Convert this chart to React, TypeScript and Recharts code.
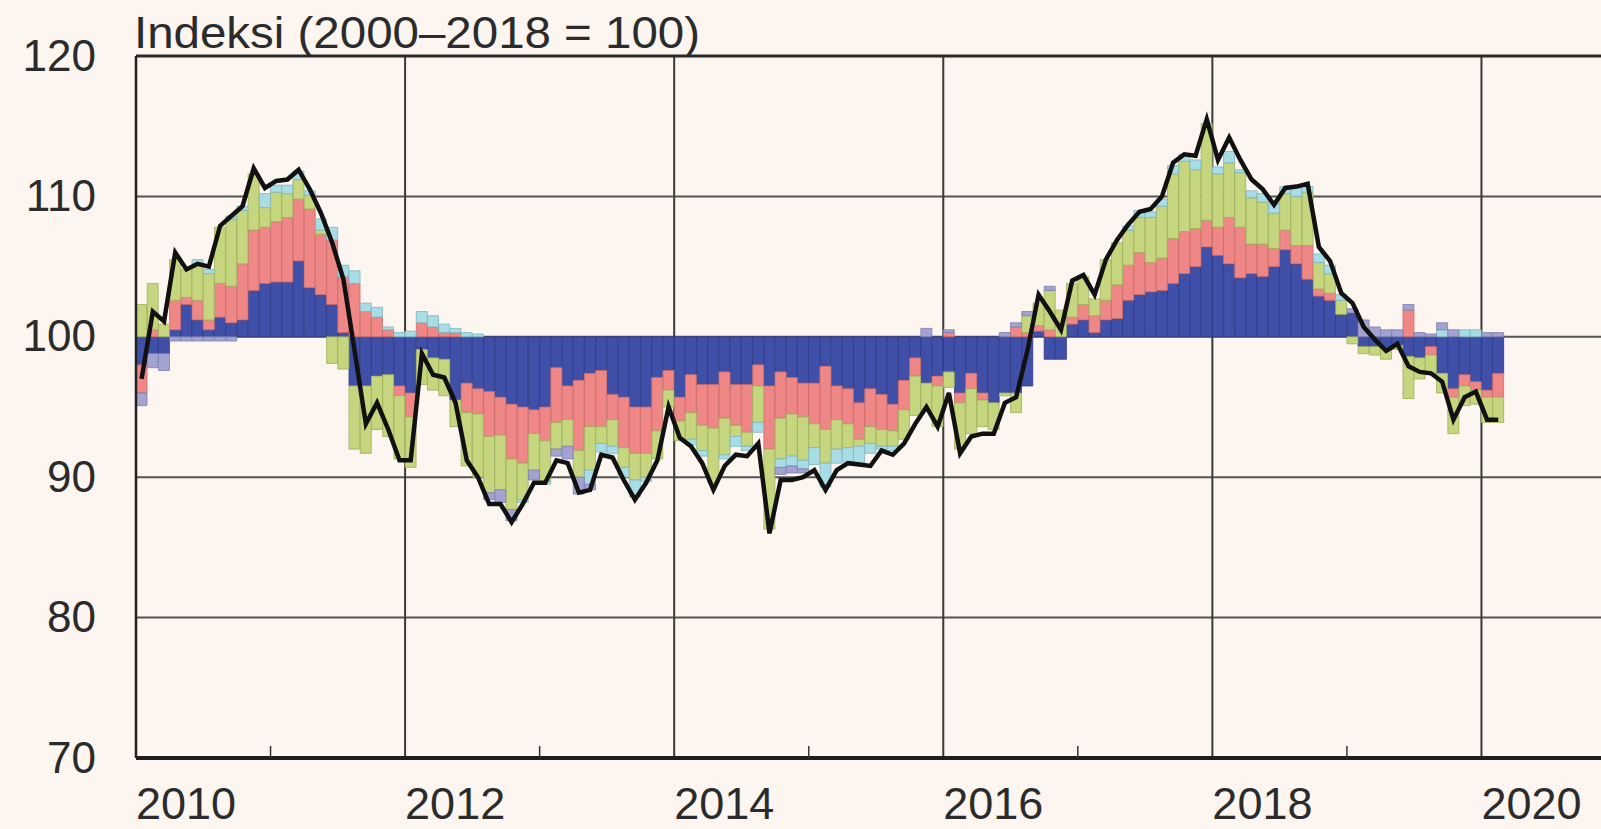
import React from 'react';
import {
  ComposedChart,
  Bar,
  Line,
  XAxis,
  YAxis,
  CartesianGrid,
  ReferenceLine,
} from 'recharts';

// monthly contributions, points from 100 (Jan 2010 - Feb 2020)
const blue = [
  -2.0, -1.2, -1.2, 0.5, 2.3, 1.2, 0.5, 1.4, 1.0, 1.2, 3.3, 3.8,
  3.9, 3.9, 5.4, 3.5, 3.0, 2.3, 0.3, -3.5, -3.5, -2.8, -2.7, -3.5,
  -4.0, -0.9, -1.5, -1.6, -4.5, -3.3, -3.7, -3.9, -4.3, -4.8, -5.0, -5.2,
  -5.0, -2.2, -3.5, -3.1, -2.6, -2.4, -4.1, -4.3, -5.0, -5.0, -2.9, -2.4,
  -4.3, -2.7, -3.4, -3.4, -2.5, -3.4, -3.4, -2.0, -3.5, -2.5, -2.9, -3.3,
  -3.3, -2.1, -3.5, -3.7, -4.7, -3.7, -4.1, -4.8, -3.1, -1.5, -3.3, -2.8,
  -2.5, -4.0, -2.6, -4.0, -4.7, -4.0, -4.0, -3.5, 0.4, -1.6, -1.6, 0.9,
  1.2, 0.3, 1.2, 1.3, 2.6, 3.0, 3.2, 3.3, 3.8, 4.5, 5.0, 6.4,
  5.8, 5.2, 4.2, 4.5, 4.3, 5.0, 6.2, 5.2, 4.1, 2.9, 2.6, 1.6,
  1.7, -0.7, -0.7, -0.8, -0.6, -1.4, -1.5, -0.7, -2.6, -3.7, -2.7, -3.2,
  -3.8, -2.6,
];

const salmon = [
  -2.0, 0.5, 0, 2.1, 0.5, 1.4, 0.7, 2.4, 2.6, 4.0, 4.3, 4.0,
  4.3, 4.6, 4.4, 5.6, 4.3, 4.6, 4.0, 3.8, 1.8, 1.4, 0.5, -0.7,
  -1.7, 1.0, 0.7, 0.3, 0.3, -2.1, -1.8, -3.2, -2.7, -3.9, -4.0, -1.7,
  -2.4, -3.9, -2.4, -5.0, -3.8, -4.0, -1.8, -3.6, -3.3, -3.3, -3.8, -1.4,
  -1.7, -2.7, -2.9, -3.1, -3.3, -2.9, -3.4, -1.5, -4.5, -3.3, -2.6, -2.4,
  -2.9, -4.5, -2.4, -2.5, -2.6, -2.7, -2.5, -1.9, -2.1, -1.3, 0, -0.7,
  0.3, -0.7, -1.1, -0.5, 0, 0, 0.7, 0.3, 0.4, 0.5, 0, 0.5,
  1.1, 1.2, 1.4, 2.4, 2.5, 3.0, 2.1, 2.3, 3.2, 3.0, 2.7, 1.9,
  2.0, 3.3, 3.6, 2.1, 2.3, 1.3, 1.4, 1.3, 2.4, 0.5, 0.5, 0,
  0, 0, 0, 0, 0, 1.9, 0, -0.6, 0, -0.6, -0.8, -0.6,
  -0.5, -1.7,
];

const green = [
  2.3, 3.3, 0.9, 2.9, 2.0, 2.6, 3.3, 4.0, 4.8, 3.8, 4.0, 1.4,
  2.1, 1.7, 1.4, 1.0, 0.3, -1.9, -2.3, -4.5, -4.8, -3.8, -4.4, -4.5,
  -3.6, -2.5, -2.3, -2.6, -1.9, -3.8, -4.5, -4.0, -3.9, -3.6, -2.6, -2.6,
  -2.9, -1.9, -1.9, -1.9, -3.1, -1.2, -1.9, -1.4, -1.9, -1.7, -2.0, -1.2,
  -1.4, -1.9, -1.8, -3.9, -2.6, -0.8, -1.0, -2.6, -5.7, -2.9, -3.0, -3.1,
  -1.7, -2.4, -2.1, -1.7, -0.5, -1.2, -1.2, -1.1, -2.1, -2.8, -1.9, -2.9,
  -1.1, -3.3, -3.2, -1.9, -1.9, -0.2, -1.4, 1.2, 1.6, 2.8, 1.9, 2.4,
  2.0, 1.2, 2.9, 3.0, 2.5, 2.5, 3.2, 3.7, 4.6, 5.0, 4.2, 6.9,
  3.8, 3.9, 3.9, 3.3, 3.0, 2.5, 2.6, 3.5, 3.8, 1.9, 1.4, 1.0,
  -0.5, -0.5, -0.6, -0.8, -0.3, -3.0, -1.5, -1.3, -1.4, -2.6, -1.4, -1.0,
  -1.8, -1.8,
];

const cyan = [
  0, 0, 0, 0, 0, 0.3, 0.3, 0, 0.2, 0.3, 0, 1.0,
  0.5, 0.6, 0.6, 0.3, 0.8, 0.9, 0.8, 0.9, 0.6, 0.7, 0.2, 0.3,
  0.4, 0.8, 0.8, 0.6, 0.3, 0.3, 0.2, 0, 0, 0, -0.2, 0,
  -0.2, 0, 0, 0, -1.0, -0.6, -0.5, -0.7, -1.2, -0.3, 0, 0,
  0, -0.4, -0.4, 0, -0.3, -0.7, -0.3, -0.7, 0, -0.6, -0.7, -0.6,
  -1.2, -1.7, -1.0, -1.0, -1.2, -0.7, -0.2, -0.3, 0, 0, 0, 0,
  0, 0, 0, 0, 0, 0, 0, 0, 0, 0, 0, 0,
  0, 0, 0, 0, 0.3, 0.5, 0.4, 0.5, 0.6, 0.5, 0.7, 0,
  0.5, 0.8, 0.2, 0.5, 0.6, 0.7, 0.5, 0.6, 0.4, 0.6, 0.6, 0.4,
  0, 0, 0, 0, 0, 0, 0, 0, 0.5, 0, 0.5, 0.5,
  0, 0,
];

const purple = [
  -0.9, -1.0, -1.2, -0.3, -0.3, -0.3, -0.3, -0.3, -0.3, 0, 0, 0,
  0, 0, 0, 0, 0, 0, 0, 0, 0, 0, 0, 0,
  0, 0, 0, 0, 0, 0, 0, -0.5, -0.9, -0.8, 0, -0.7,
  0, -0.5, -0.9, -1.2, -0.4, 0, 0, 0, 0, 0, 0, 0,
  0, 0, 0, 0, 0, 0, 0, 0, 0, -0.5, -0.5, -0.3,
  0, 0, 0, 0, 0, 0, 0, 0, 0, 0, 0.6, 0,
  0.2, 0, 0, 0, 0, 0.3, 0.3, 0.3, 0, 0.3, 0, 0,
  0, 0, 0, 0, 0, 0, 0, 0, 0, 0, 0, 0,
  0, 0, 0, 0, 0, 0, 0, 0, 0, 0, 0, 0,
  0.3, 1.2, 0.7, 0.5, 0.5, 0.4, 0.3, 0.2, 0.5, 0.5, 0, 0,
  0.3, 0.3,
];

// the index itself
const indexLine = [
  97.0, 101.8, 101.1, 106.0, 104.8, 105.2, 105.0, 107.9, 108.6, 109.3, 112.0, 110.6,
  111.1, 111.2, 111.9, 110.5, 108.8, 106.7, 104.1, 99.0, 93.8, 95.3, 93.4, 91.2,
  91.2, 98.8, 97.3, 97.1, 95.3, 91.2, 90.0, 88.1, 88.1, 86.8, 88.1, 89.6,
  89.6, 91.2, 91.0, 88.9, 89.1, 91.6, 91.4, 89.8, 88.4, 89.6, 91.2, 95.0,
  92.8, 92.2, 91.0, 89.1, 90.8, 91.6, 91.5, 92.4, 86.0, 89.8, 89.8, 90.0,
  90.5, 89.1, 90.5, 91.0, 90.9, 90.8, 91.9, 91.6, 92.4, 93.8, 95.0, 93.6,
  96.0, 91.7, 92.9, 93.1, 93.1, 95.3, 95.7, 99.0, 103.0, 101.8, 100.5, 104.0,
  104.4, 103.0, 105.5, 106.9, 108.0, 108.9, 109.1, 110.0, 112.4, 113.0, 112.9, 115.5,
  112.6, 114.2, 112.6, 111.2, 110.5, 109.4, 110.6, 110.7, 110.9, 106.4, 105.4, 103.1,
  102.4, 100.7, 99.8, 99.0, 99.5, 97.9, 97.5, 97.4, 96.8, 94.1, 95.7, 96.1,
  94.1, 94.1,
];

const yTicks = [70, 80, 90, 100, 110, 120];
const xTicks = [0, 12, 24, 36, 48, 60, 72, 84, 96, 108, 120];
const xTickLabels = ['2010', '', '2012', '', '2014', '', '2016', '', '2018', '', '2020'];
const gridMonths = [24, 48, 72, 96, 120];
const TITLE = 'Indeksi (2000–2018 = 100)';

// axis runs Jan 2010 .. Dec 2020
const MONTHS = 132;
const months = Array.from(
  { length: MONTHS },
  (_, i) => `${2010 + Math.floor(i / 12)}-${String((i % 12) + 1).padStart(2, '0')}`
);

const data = months.map((month, i) => ({
  month,
  idx: i,
  blue: blue[i],
  salmon: salmon[i],
  green: green[i],
  cyan: cyan[i],
  purple: purple[i],
  line: indexLine[i] != null ? indexLine[i] - 100 : null,
}));

const BG = '#fcf5f0';
const TEXT = '#2b2b2b';
const FONT = '"Liberation Sans", Arial, sans-serif';
const PLOT_LEFT = 136;
const PLOT_TOP = 56;
const CHART_H = 829;
const X_AXIS_H = 71;
const PLOT_BOTTOM = CHART_H - X_AXIS_H;
const CHART_W = PLOT_LEFT + Math.round(MONTHS * 11.21);

const series = [
  { key: 'blue', fill: '#4050a8', stroke: '#2c3888' },
  { key: 'salmon', fill: '#f08787', stroke: '#c86a6a' },
  { key: 'green', fill: '#c6d67e', stroke: '#9eae5c' },
  { key: 'cyan', fill: '#a9dde6', stroke: '#7fb5c0' },
  { key: 'purple', fill: '#a3a3d2', stroke: '#7e7eb0' },
];

const YTick = ({ y, payload }: any) => (
  <text
    x={96}
    y={y - 1}
    textAnchor="end"
    dominantBaseline="central"
    fontSize={44}
    fontFamily={FONT}
    fill={TEXT}
  >
    {payload.value + 100}
  </text>
);

const XTick = ({ x, payload }: any) => {
  const label = xTickLabels[xTicks.indexOf(payload.value)];
  if (!label) {
    return (
      <line x1={x} x2={x} y1={PLOT_BOTTOM} y2={PLOT_BOTTOM - 12} stroke="#333" strokeWidth={1.5} />
    );
  }
  return (
    <text x={x} y={PLOT_BOTTOM + 61} textAnchor="start" fontSize={45} fontFamily={FONT} fill={TEXT}>
      {label}
    </text>
  );
};

export default function App() {
  return (
    <div
      style={{
        position: 'absolute',
        left: 0,
        top: 0,
        width: 1601,
        height: CHART_H,
        overflow: 'hidden',
        background: BG,
      }}
    >
      <ComposedChart
        width={CHART_W}
        height={CHART_H}
        data={data}
        margin={{ top: PLOT_TOP, right: 0, bottom: 0, left: 0 }}
        stackOffset="sign"
        barCategoryGap={0}
        barGap={0}
      >
        <XAxis
          xAxisId="n"
          type="number"
          dataKey="idx"
          domain={[0, MONTHS]}
          ticks={xTicks}
          interval={0}
          allowDataOverflow
          height={X_AXIS_H}
          axisLine={false}
          tickLine={false}
          tick={<XTick />}
        />
        <XAxis dataKey="month" hide height={0} />
        <XAxis
          xAxisId="g"
          type="number"
          dataKey="idx"
          domain={[0, MONTHS]}
          ticks={gridMonths}
          allowDataOverflow
          hide
          height={0}
        />
        <YAxis
          width={PLOT_LEFT}
          domain={[-30, 20]}
          ticks={yTicks.map((v) => v - 100)}
          interval={0}
          allowDataOverflow
          axisLine={{ stroke: '#222', strokeWidth: 2.5 }}
          tickLine={false}
          tick={<YTick />}
        />
        <CartesianGrid vertical={false} stroke="#555" strokeWidth={2} />
        <CartesianGrid xAxisId="g" horizontal={false} stroke="#3a3a3a" strokeWidth={2} />
        {series.map((s) => (
          <Bar
            key={s.key}
            dataKey={s.key}
            stackId="s"
            fill={s.fill}
            stroke={s.stroke}
            strokeWidth={0.8}
            isAnimationActive={false}
          />
        ))}
        <Line
          dataKey="line"
          type="linear"
          stroke="#111"
          strokeWidth={4.5}
          dot={false}
          isAnimationActive={false}
        />
        <ReferenceLine y={20} stroke="#2a2a2a" strokeWidth={3} />
        <ReferenceLine y={-30} stroke="#1f1f1f" strokeWidth={4} />
      </ComposedChart>
      <svg
        width={1601}
        height={PLOT_TOP}
        style={{ position: 'absolute', left: 0, top: 0, pointerEvents: 'none' }}
      >
        <text
          x={134}
          y={48}
          fontSize={44}
          fontFamily={FONT}
          fill={TEXT}
          textLength={566}
          lengthAdjust="spacingAndGlyphs"
        >
          {TITLE}
        </text>
      </svg>
    </div>
  );
}
